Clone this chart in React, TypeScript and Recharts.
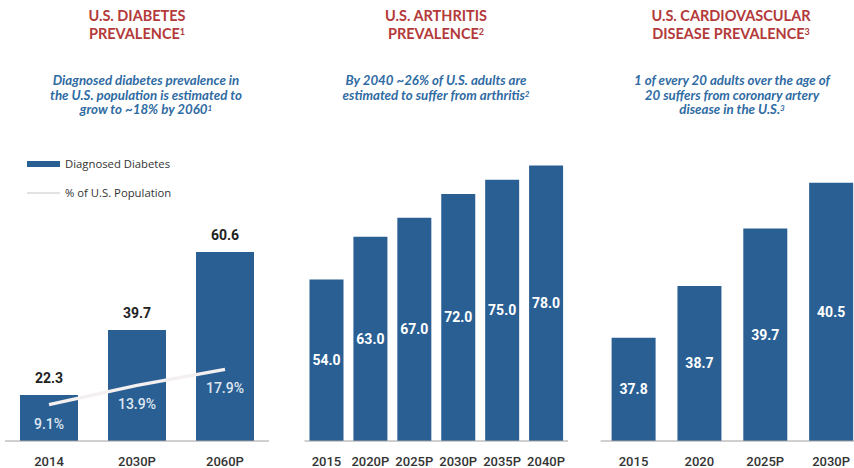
import React from 'react';
import { BarChart, Bar, Line, XAxis, YAxis, LabelList, Legend, ComposedChart } from 'recharts';

const diabetesCategories = ['2014', '2030P', '2060P'];
const diabetesCases = [22.3, 39.7, 60.6];
const diabetesPct = [9.1, 13.9, 17.9];

const arthritisCategories = ['2015', '2020P', '2025P', '2030P', '2035P', '2040P'];
const arthritisValues = [54.0, 63.0, 67.0, 72.0, 75.0, 78.0];

const cardioCategories = ['2015', '2020', '2025P', '2030P'];
const cardioValues = [37.8, 38.7, 39.7, 40.5];

const diabetesData = diabetesCategories.map((c, i) => ({ cat: c, cases: diabetesCases[i], pct: diabetesPct[i] }));
const arthritisData = arthritisCategories.map((c, i) => ({ cat: c, value: arthritisValues[i] }));
const cardioData = cardioCategories.map((c, i) => ({ cat: c, value: cardioValues[i] }));

const BAR = '#2a5f94';
const RED = '#b3393a';
const BLUE = '#2f6ba3';
const AXIS = '#a0a0a0';
const TITLE_FONT = 'Lato, "Open Sans", sans-serif';
const NUM_FONT = 'Roboto, sans-serif';

const tickStyle = { fill: '#333', fontSize: 13, fontFamily: NUM_FONT, fontWeight: 500 };

const Title = ({ cx, lines, sup }: { cx: number; lines: string[]; sup: string }) => (
  <div style={{ position: 'absolute', left: cx - 120, top: 7, width: 240, textAlign: 'center', color: RED, fontFamily: TITLE_FONT, fontWeight: 700, fontSize: 14.5, lineHeight: '18px' }}>
    {lines.map((l, i) => (
      <div key={i}>
        {l}
        {i === lines.length - 1 ? <sup style={{ fontSize: 9, verticalAlign: 'top', position: 'relative', top: -2 }}>{sup}</sup> : null}
      </div>
    ))}
  </div>
);

const Subtitle = ({ cx, lines, sup }: { cx: number; lines: string[]; sup: string }) => (
  <div style={{ position: 'absolute', left: cx - 130, top: 73, width: 260, textAlign: 'center', color: BLUE, fontFamily: TITLE_FONT, fontWeight: 700, fontStyle: 'italic', fontSize: 13.3, lineHeight: '14.5px' }}>
    {lines.map((l, i) => (
      <div key={i}>
        {l}
        {i === lines.length - 1 ? <sup style={{ fontSize: 8, verticalAlign: 'top', position: 'relative', top: -1 }}>{sup}</sup> : null}
      </div>
    ))}
  </div>
);

const renderLegend = (props: any) => {
  const payload = [...(props.payload || [])].sort((a: any, b: any) => (a.type === 'line' ? 1 : 0) - (b.type === 'line' ? 1 : 0));
  return (
    <div style={{ fontFamily: '"Open Sans", sans-serif', fontSize: 11.3, color: '#333' }}>
      {payload.map((p: any, i: number) => (
        <div key={i} style={{ display: 'flex', alignItems: 'center', height: 29 }}>
          {p.type === 'line' ? (
            <div style={{ width: 33, height: 2, background: '#e2e2e2', marginRight: 5 }} />
          ) : (
            <div style={{ width: 33, height: 6, background: BAR, marginRight: 5 }} />
          )}
          <span>{p.value}</span>
        </div>
      ))}
    </div>
  );
};

export default function App() {
  return (
    <div style={{ position: 'absolute', left: 0, top: 0, width: 854, height: 468, overflow: 'hidden', background: '#fff' }}>
      <Title cx={137} lines={['U.S. DIABETES', 'PREVALENCE']} sup="1" />
      <Subtitle cx={146} lines={['Diagnosed diabetes prevalence in', 'the U.S. population is estimated to', 'grow to ~18% by 2060']} sup="1" />
      <Title cx={436} lines={['U.S. ARTHRITIS', 'PREVALENCE']} sup="2" />
      <Subtitle cx={436} lines={['By 2040 ~26% of U.S. adults are', 'estimated to suffer from arthritis']} sup="2" />
      <Title cx={731} lines={['U.S. CARDIOVASCULAR', 'DISEASE PREVALENCE']} sup="3" />
      <Subtitle cx={732} lines={['1 of every 20 adults over the age of', '20 suffers from coronary artery', 'disease in the U.S.']} sup="3" />

      <div style={{ position: 'absolute', left: 0, top: 0 }}>
        <ComposedChart width={280} height={468} data={diabetesData} margin={{ top: 217, right: 11, bottom: 0, left: 5 }}>
          <XAxis dataKey="cat" axisLine={{ stroke: AXIS }} tickLine={false} tickSize={0} tickMargin={16} height={27} tick={tickStyle} interval={0} />
          <YAxis yAxisId="l" hide domain={[10, 70]} allowDataOverflow />
          <YAxis yAxisId="r" hide orientation="right" domain={[0, 56]} allowDataOverflow />
          <Legend layout="vertical" align="center" verticalAlign="middle" content={renderLegend} wrapperStyle={{ position: 'absolute', left: 27, top: 149, width: 200 }} />
          <Bar yAxisId="l" dataKey="cases" name="Diagnosed Diabetes" fill={BAR} barSize={58} isAnimationActive={false} legendType="rect">
            <LabelList dataKey="cases" position="top" offset={12} style={{ fill: '#222', fontSize: 14, fontWeight: 700, fontFamily: NUM_FONT }} formatter={(v: any) => Number(v).toFixed(1)} />
          </Bar>
          <Line yAxisId="r" dataKey="pct" name="% of U.S. Population" stroke="#f4f0f0" strokeWidth={3.5} dot={false} isAnimationActive={false} legendType="line">
            <LabelList dataKey="pct" position="bottom" offset={14} style={{ fill: '#dfe7f1', fontSize: 14, fontWeight: 500, fontFamily: NUM_FONT }} formatter={(v: any) => `${Number(v).toFixed(1)}%`} />
          </Line>
        </ComposedChart>
      </div>

      <div style={{ position: 'absolute', left: 290, top: 0 }}>
        <BarChart width={290} height={468} data={arthritisData} margin={{ top: 156, right: 12, bottom: 0, left: 14.5 }}>
          <XAxis dataKey="cat" axisLine={{ stroke: AXIS }} tickLine={false} tickSize={0} tickMargin={16} height={27} tick={tickStyle} interval={0} />
          <YAxis hide domain={[20, 80]} allowDataOverflow />
          <Bar dataKey="value" fill={BAR} barSize={34} isAnimationActive={false}>
            <LabelList dataKey="value" position="center" style={{ fill: '#fff', fontSize: 14, fontWeight: 700, fontFamily: NUM_FONT }} formatter={(v: any) => Number(v).toFixed(1)} />
          </Bar>
        </BarChart>
      </div>

      <div style={{ position: 'absolute', left: 580, top: 0 }}>
        <BarChart width={290} height={468} data={cardioData} margin={{ top: 154, right: 6, bottom: 0, left: 20.6 }}>
          <XAxis dataKey="cat" axisLine={{ stroke: AXIS }} tickLine={false} tickSize={0} tickMargin={16} height={27} tick={tickStyle} interval={0} />
          <YAxis hide domain={[36, 41]} allowDataOverflow />
          <Bar dataKey="value" fill={BAR} barSize={44} isAnimationActive={false}>
            <LabelList dataKey="value" position="center" style={{ fill: '#fff', fontSize: 14, fontWeight: 700, fontFamily: NUM_FONT }} formatter={(v: any) => Number(v).toFixed(1)} />
          </Bar>
        </BarChart>
      </div>
    </div>
  );
}
